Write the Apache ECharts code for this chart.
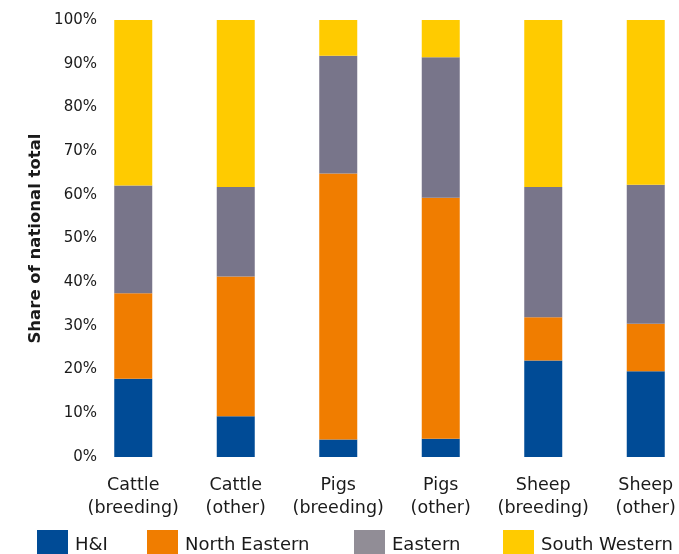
<!DOCTYPE html>
<html>
<head>
<meta charset="utf-8">
<title>Share of national total by region</title>
<script src="https://cdn.jsdelivr.net/npm/echarts@6/dist/echarts.min.js"></script>
<style>
  html, body { margin: 0; padding: 0; background: #ffffff; }
  #chart { width: 679px; height: 554px; }
</style>
</head>
<body>
<div id="chart"></div>
<script>
// Livestock categories (two-line axis labels)
const categories = [
  'Cattle\n(breeding)', 'Cattle\n(other)',
  'Pigs\n(breeding)', 'Pigs\n(other)',
  'Sheep\n(breeding)', 'Sheep\n(other)'
];

// Regional share of the national total, in percent
const hiShare            = [17.9,  9.3,  4.0,  4.2, 22.1, 19.6];
const northEasternShare  = [19.6, 32.0, 60.9, 55.1,  9.9, 10.9];
const easternShare       = [24.6, 20.5, 26.9, 32.2, 29.8, 31.8];
const southWesternShare  = [37.9, 38.2,  8.2,  8.5, 38.2, 37.7];

// Y axis ticks
const yMin = 0, yMax = 100, yStep = 10;

const FONT = '"DejaVu Sans"';
const TEXT = '#1a1a1a';

const regions = [
  { name: 'H&I',           data: hiShare,           color: '#004b96', legendColor: '#004b96', left: 37 },
  { name: 'North Eastern', data: northEasternShare, color: '#f07d00', legendColor: '#f07d00', left: 147 },
  { name: 'Eastern',       data: easternShare,      color: '#78758a', legendColor: '#918d96', left: 354 },
  { name: 'South Western', data: southWesternShare, color: '#ffcb00', legendColor: '#ffcb00', left: 503 }
];

const chart = echarts.init(document.getElementById('chart'), null, { renderer: 'canvas' });

chart.setOption({
  animation: false,
  backgroundColor: '#ffffff',
  grid: {
    left: 82,
    right: -18,
    top: 20,
    bottom: 97,
    outerBoundsMode: 'none'
  },
  legend: regions.map(r => ({
    left: r.left,
    top: 530,
    padding: 0,
    orient: 'horizontal',
    itemWidth: 31,
    itemHeight: 30,
    itemGap: 7,
    selectedMode: false,
    icon: 'rect',
    data: [{ name: r.name, itemStyle: { color: r.legendColor } }],
    textStyle: { fontFamily: FONT, fontSize: 18, color: TEXT, padding: [0, 0, 0, 2] }
  })),
  xAxis: {
    type: 'category',
    data: categories,
    axisLine: { show: false },
    axisTick: { show: false },
    axisLabel: {
      margin: 17,
      interval: 0,
      fontFamily: FONT,
      fontSize: 17.5,
      lineHeight: 23,
      color: TEXT,
      align: 'center'
    },
    splitLine: { show: false }
  },
  yAxis: {
    type: 'value',
    min: yMin,
    max: yMax,
    interval: yStep,
    name: 'Share of national total',
    nameLocation: 'middle',
    nameGap: 38,
    nameMoveOverlap: false,
    nameTextStyle: { fontFamily: FONT, fontSize: 16.5, fontWeight: 'bold', color: TEXT },
    axisLine: { show: false },
    axisTick: { show: false },
    splitLine: { show: false },
    axisLabel: {
      margin: -15,
      fontFamily: FONT,
      fontSize: 15,
      color: TEXT,
      formatter: '{value}%'
    }
  },
  series: regions.map(r => ({
    name: r.name,
    type: 'bar',
    stack: 'share',
    barWidth: 38,
    data: r.data,
    itemStyle: { color: r.color },
    emphasis: { disabled: true }
  }))
});
</script>
</body>
</html>
